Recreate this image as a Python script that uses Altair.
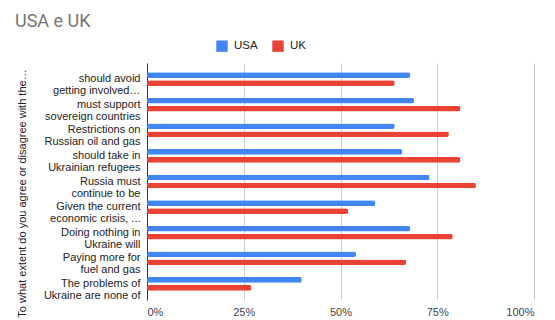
import altair as alt
import pandas as pd

categories = [
    "should avoid|getting involved…",
    "must support|sovereign countries",
    "Restrictions on|Russian oil and gas",
    "should take in|Ukrainian refugees",
    "Russia must|continue to be",
    "Given the current|economic crisis, ...",
    "Doing nothing in|Ukraine will",
    "Paying more for|fuel and gas",
    "The problems of|Ukraine are none of",
]
usa = [0.68, 0.69, 0.64, 0.66, 0.73, 0.59, 0.68, 0.54, 0.40]
uk = [0.64, 0.81, 0.78, 0.81, 0.85, 0.52, 0.79, 0.67, 0.27]
series = ["USA", "UK"]
colors = ["#4285F4", "#EA4335"]
x_ticks = [0, 0.25, 0.5, 0.75, 1.0]

rows = []
for c, a, b in zip(categories, usa, uk):
    rows.append({"q": c, "series": "USA", "value": a})
    rows.append({"q": c, "series": "UK", "value": b})
df = pd.DataFrame(rows)

font = "Liberation Sans"

chart = (
    alt.Chart(df)
    .mark_bar(cornerRadius=2)
    .encode(
        x=alt.X(
            "value:Q",
            scale=alt.Scale(domain=[0, 1], nice=False),
            axis=alt.Axis(
                values=x_ticks,
                format=".0%",
                title=None,
                domain=False,
                ticks=False,
                grid=True,
                gridColor="#cccccc",
                labelPadding=6,
                labelFontSize=11,
                labelColor="#444444",
                labelFont=font,
            ),
        ),
        y=alt.Y(
            "q:N",
            sort=categories,
            scale=alt.Scale(paddingInner=0, paddingOuter=0.13),
            axis=alt.Axis(
                title="To what extent do you agree or disagree with the…",
                titleFontSize=11,
                titleFontWeight="normal",
                titleColor="#222222",
                titleFont=font,
                titleAngle=270,
                titleX=-125,
                titleY=130,
                titleBaseline="middle",
                titleAlign="center",
                labelExpr="split(datum.label, '|')",
                labelFontSize=11,
                labelColor="#222222",
                labelFont=font,
                labelLineHeight=12,
                labelPadding=7,
                ticks=False,
                domain=True,
                domainColor="#333333",
                domainWidth=1,
                grid=False,
                labelLimit=200,
            ),
        ),
        yOffset=alt.YOffset(
            "series:N",
            sort=series,
            scale=alt.Scale(paddingInner=0.3, paddingOuter=0.75),
        ),
        color=alt.Color(
            "series:N",
            sort=series,
            scale=alt.Scale(domain=series, range=colors),
            legend=alt.Legend(
                title=None,
                orient="none",
                direction="horizontal",
                legendX=69,
                legendY=-23,
                symbolType="square",
                symbolSize=130,
                symbolStrokeWidth=0,
                labelFontSize=11.5,
                labelColor="#222222",
                labelFont=font,
                columnPadding=14,
                labelOffset=6,
            ),
        ),
    )
    .properties(
        width=387,
        height=237,
        autosize=alt.AutoSizeParams(type="none"),
        padding={"left": 147, "top": 63, "right": 21, "bottom": 20},
        title=alt.TitleParams(
            "USA e UK",
            anchor="start",
            frame="group",
            dx=-132,
            dy=17,
            offset=8,
            baseline="bottom",
            fontSize=18,
            fontWeight="normal",
            color="#757575",
            font="Roboto",
        ),
    )
    .configure_view(stroke=None)
)

chart.save("out.html", embed_options={"renderer": "svg", "actions": False})
